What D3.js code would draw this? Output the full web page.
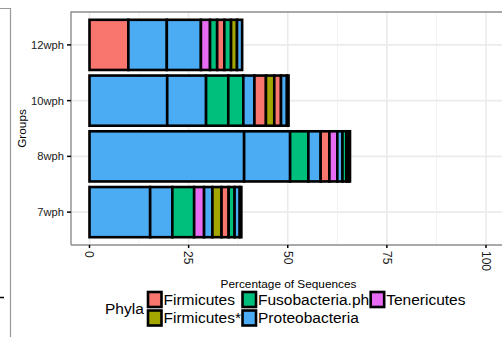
<!DOCTYPE html>
<html>
<head>
<meta charset="utf-8">
<script src="https://cdn.jsdelivr.net/npm/d3@7"></script>
<style>
  body { margin: 0; background: #fff; }
  svg { display: block; font-family: "Liberation Sans", Arial, sans-serif; }
</style>
</head>
<body>
<svg id="chart" width="502" height="337"></svg>
<script>
// groups top to bottom
const groups = ["12wph", "10wph", "8wph", "7wph"];
const phyla = ["Firmicutes", "Firmicutes*", "Fusobacteria.ph", "Proteobacteria", "Tenericutes"];
const phylaColors = ["#F8766D", "#A3A500", "#00BF7D", "#4BACF3", "#E76BF3"];
const xTicks = [0, 25, 50, 75, 100];

// stacked segments, left to right
const phyla12wph = ["Firmicutes", "Proteobacteria", "Proteobacteria", "Tenericutes", "Fusobacteria.ph", "Firmicutes", "Fusobacteria.ph", "Firmicutes*", "Proteobacteria"];
const values12wph = [9.8, 9.7, 8.6, 2.3, 1.8, 1.8, 1.7, 1.5, 1.3];
const phyla10wph = ["Proteobacteria", "Proteobacteria", "Fusobacteria.ph", "Fusobacteria.ph", "Proteobacteria", "Firmicutes", "Firmicutes*", "Firmicutes", "Proteobacteria", "Fusobacteria.ph"];
const values10wph = [19.6, 9.8, 5.6, 3.8, 2.8, 2.9, 2.1, 1.7, 1.5, 0.4];
const phyla8wph = ["Proteobacteria", "Proteobacteria", "Fusobacteria.ph", "Proteobacteria", "Firmicutes", "Tenericutes", "Proteobacteria", "Fusobacteria.ph", "Firmicutes*", "Proteobacteria"];
const values8wph = [39.0, 11.6, 4.6, 3.1, 2.2, 2.0, 1.3, 1.0, 0.5, 0.4];
const phyla7wph = ["Proteobacteria", "Proteobacteria", "Fusobacteria.ph", "Tenericutes", "Proteobacteria", "Firmicutes*", "Firmicutes", "Fusobacteria.ph", "Proteobacteria", "Fusobacteria.ph"];
const values7wph = [15.3, 5.6, 5.5, 2.5, 2.1, 2.3, 1.8, 1.5, 1.3, 0.4];

const groupPhyla = [phyla12wph, phyla10wph, phyla8wph, phyla7wph];
const groupValues = [values12wph, values10wph, values8wph, values7wph];

const svg = d3.select("#chart");
const panel = { left: 71, top: 12, right: 510, bottom: 245 };

const x = d3.scaleLinear().domain([0, 100]).range([89.5, 486]);
const y = d3.scalePoint().domain(groups).range([panel.top, panel.bottom]).padding(0.59);
const barH = y.step() * 0.9;
const color = d3.scaleOrdinal().domain(phyla).range(phylaColors);

// stray edge of the neighbouring figure
svg.append("path").attr("d", "M0,8.5H10.5V337").attr("fill", "none").attr("stroke", "#999").attr("stroke-width", 1.2);
svg.append("line").attr("x1", 0).attr("x2", 4).attr("y1", 297.5).attr("y2", 297.5).attr("stroke", "#000").attr("stroke-width", 1.5);

// panel
svg.append("rect").attr("x", panel.left).attr("y", panel.top)
  .attr("width", panel.right - panel.left).attr("height", panel.bottom - panel.top).attr("fill", "#fff");

const grid = svg.append("g");
d3.range(12.5, 105, 25).forEach(v => {
  grid.append("line").attr("x1", x(v)).attr("x2", x(v)).attr("y1", panel.top).attr("y2", panel.bottom)
    .attr("stroke", "#F3F3F3").attr("stroke-width", 1);
});
xTicks.forEach(v => {
  grid.append("line").attr("x1", x(v)).attr("x2", x(v)).attr("y1", panel.top).attr("y2", panel.bottom)
    .attr("stroke", "#EBEBEB").attr("stroke-width", 1.6);
});
groups.forEach(g => {
  grid.append("line").attr("x1", panel.left).attr("x2", panel.right).attr("y1", y(g)).attr("y2", y(g))
    .attr("stroke", "#EBEBEB").attr("stroke-width", 1.6);
});

// bars
groups.forEach((g, gi) => {
  let acc = 0;
  const segs = groupValues[gi].map((v, i) => {
    const s = { phylum: groupPhyla[gi][i], x0: acc, x1: acc + v };
    acc += v;
    return s;
  });
  svg.append("g").selectAll("rect").data(segs).join("rect")
    .attr("x", d => x(d.x0))
    .attr("width", d => x(d.x1) - x(d.x0))
    .attr("y", y(g) - barH / 2)
    .attr("height", barH)
    .attr("fill", d => color(d.phylum))
    .attr("stroke", "#000")
    .attr("stroke-width", 2.6);
});

// panel border (left + top visible)
svg.append("path").attr("d", `M${panel.left},${panel.bottom}V${panel.top}H${panel.right}`)
  .attr("fill", "none").attr("stroke", "#8c8c8c").attr("stroke-width", 1.4);
svg.append("line").attr("x1", panel.left).attr("x2", panel.right).attr("y1", panel.bottom).attr("y2", panel.bottom)
  .attr("stroke", "#8c8c8c").attr("stroke-width", 1.4);

// x axis
const xa = svg.append("g");
xTicks.forEach(v => {
  xa.append("line").attr("x1", x(v)).attr("x2", x(v)).attr("y1", panel.bottom).attr("y2", panel.bottom + 3)
    .attr("stroke", "#000").attr("stroke-width", 1.5);
  xa.append("text").attr("transform", `translate(${x(v)},${panel.bottom + 6}) rotate(90)`)
    .attr("dy", "0.35em").attr("font-size", 12).attr("fill", "#1a1a1a").text(v);
});
svg.append("text").attr("x", (panel.left + 506) / 2).attr("y", 288).attr("text-anchor", "middle")
  .attr("font-size", 11.8).attr("fill", "#000").text("Percentage of Sequences");

// y axis
groups.forEach(g => {
  svg.append("line").attr("x1", panel.left - 4).attr("x2", panel.left).attr("y1", y(g)).attr("y2", y(g))
    .attr("stroke", "#000").attr("stroke-width", 1.5);
  svg.append("text").attr("x", panel.left - 7).attr("y", y(g)).attr("dy", "0.35em").attr("text-anchor", "end")
    .attr("font-size", 11.2).attr("fill", "#1a1a1a").text(g);
});
svg.append("text").attr("transform", `translate(26,${(panel.top + panel.bottom) / 2}) rotate(-90)`)
  .attr("text-anchor", "middle").attr("font-size", 11.8).attr("fill", "#000").text("Groups");

// legend
const legend = svg.append("g");
const rowY = [299.5, 318];
legend.append("text").attr("x", 105).attr("y", (rowY[0] + rowY[1]) / 2).attr("dy", "0.35em")
  .attr("font-size", 15.5).attr("fill", "#000").text("Phyla");
let colX = 148;
for (let c = 0; c * 2 < phyla.length; c++) {
  let maxW = 0;
  phyla.slice(c * 2, c * 2 + 2).forEach((p, r) => {
    legend.append("rect").attr("x", colX).attr("y", rowY[r] - 7.5).attr("width", 13.5).attr("height", 15)
      .attr("fill", color(p)).attr("stroke", "#000").attr("stroke-width", 2.6);
    const t = legend.append("text").attr("x", colX + 15.5).attr("y", rowY[r]).attr("dy", "0.35em")
      .attr("font-size", 15.5).attr("fill", "#000").text(p);
    maxW = Math.max(maxW, t.node().getComputedTextLength());
  });
  colX += 15.5 + maxW + 1.5;
}
</script>
</body>
</html>
